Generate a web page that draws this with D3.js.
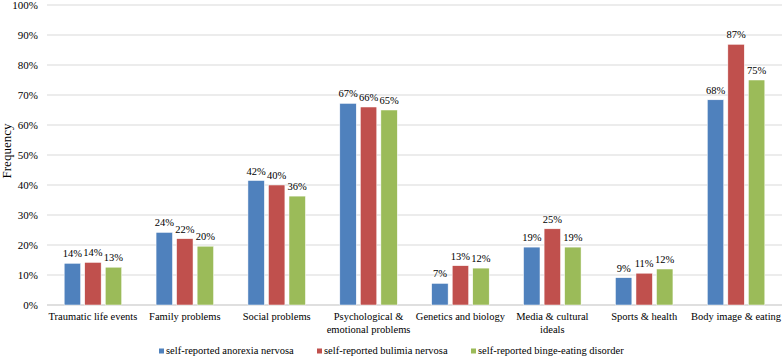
<!DOCTYPE html>
<html>
<head>
<meta charset="utf-8">
<script src="https://cdn.jsdelivr.net/npm/d3@7"></script>
<style>
  body { margin: 0; background: #fff; }
</style>
</head>
<body>
<svg id="chart" width="782" height="357"></svg>
<script>
const categories = [
    ["Traumatic life events"],
    ["Family problems"],
    ["Social problems"],
    ["Psychological &", "emotional problems"],
    ["Genetics and biology"],
    ["Media & cultural", "ideals"],
    ["Sports & health"],
    ["Body image & eating"]
];
const seriesNames = [
    "self-reported anorexia nervosa",
    "self-reported bulimia nervosa",
    "self-reported binge-eating disorder"
];
const anorexia = [13.9, 24.2, 41.5, 67.2, 7.2, 19.3, 9.1, 68.4];
const bulimia = [14.2, 22.1, 40.0, 66.0, 13.1, 25.4, 10.6, 86.9];
const bingeEating = [12.6, 19.6, 36.3, 65.0, 12.3, 19.3, 12.0, 75.0];
const anorexiaLabels = ["14%", "24%", "42%", "67%", "7%", "19%", "9%", "68%"];
const bulimiaLabels = ["14%", "22%", "40%", "66%", "13%", "25%", "11%", "87%"];
const bingeLabels = ["13%", "20%", "36%", "65%", "12%", "19%", "12%", "75%"];
const yTicks = [0, 10, 20, 30, 40, 50, 60, 70, 80, 90, 100];

const colors = ["#4f81bd", "#c0504d", "#9bbb59"];
const FONT = "Liberation Serif";
const FS = "10.5px";

const svg = d3.select("#chart");
const width = +svg.attr("width");
const height = +svg.attr("height");
const margin = { top: 5, right: 0, bottom: 52, left: 47 };

const catKeys = categories.map((c, i) => i);
const seriesData = [anorexia, bulimia, bingeEating];
const seriesLabels = [anorexiaLabels, bulimiaLabels, bingeLabels];

const x = d3.scaleBand()
    .domain(catKeys)
    .range([margin.left, width - margin.right]);

// width of one cluster of three bars
const groupW = 57.5;
const xs = d3.scaleBand()
    .domain([0, 1, 2])
    .range([0, groupW])
    .paddingInner(0.2);

const y = d3.scaleLinear()
    .domain([0, 100])
    .range([height - margin.bottom, margin.top]);

const barX = (i, s) => x(i) + (x.bandwidth() - groupW) / 2 + xs(s);

// gridlines
svg.append("g")
    .selectAll("line")
    .data(yTicks)
    .join("line")
    .attr("x1", margin.left)
    .attr("x2", width - margin.right)
    .attr("y1", d => y(d))
    .attr("y2", d => y(d))
    .attr("stroke", d => d === 0 ? "#bfbfbf" : "#d9d9d9")
    .attr("stroke-width", 1);

// y tick labels
svg.append("g")
    .selectAll("text")
    .data(yTicks)
    .join("text")
    .attr("x", margin.left - 9)
    .attr("y", d => y(d))
    .attr("dy", "0.35em")
    .attr("text-anchor", "end")
    .style("font-family", FONT)
    .style("font-size", "11px")
    .text(d => d + "%");

// y axis title
svg.append("text")
    .attr("transform", "rotate(-90)")
    .attr("x", -151)
    .attr("y", 11)
    .attr("text-anchor", "middle")
    .style("font-family", FONT)
    .style("font-size", "13px")
    .text("Frequency");

// bars + value labels
seriesData.forEach((vals, s) => {
    const g = svg.append("g");
    g.selectAll("rect")
        .data(vals)
        .join("rect")
        .attr("x", (d, i) => barX(i, s))
        .attr("y", d => y(d))
        .attr("width", xs.bandwidth())
        .attr("height", d => y(0) - y(d))
        .attr("fill", colors[s])
        .attr("stroke", "#fff")
        .attr("stroke-width", 0.5);

    g.selectAll("text")
        .data(vals)
        .join("text")
        .attr("x", (d, i) => barX(i, s) + xs.bandwidth() / 2)
        .attr("y", d => y(d) - 6)
        .attr("text-anchor", "middle")
        .style("font-family", FONT)
        .style("font-size", FS)
        .text((d, i) => seriesLabels[s][i]);
});

// category labels
const catG = svg.append("g");
categories.forEach((lines, i) => {
    const t = catG.append("text")
        .attr("x", x(i) + x.bandwidth() / 2)
        .attr("y", y(0) + 15)
        .attr("text-anchor", "middle")
        .style("font-family", FONT)
        .style("font-size", FS);
    lines.forEach((ln, j) => {
        t.append("tspan")
            .attr("x", x(i) + x.bandwidth() / 2)
            .attr("dy", j === 0 ? 0 : 13)
            .style("font-family", FONT)
            .text(ln);
    });
});

// legend
const legendX = [159, 317, 471];
const legend = svg.append("g");
seriesNames.forEach((name, s) => {
    legend.append("rect")
        .attr("x", legendX[s])
        .attr("y", 348.5)
        .attr("width", 5)
        .attr("height", 5)
        .attr("fill", colors[s]);
    legend.append("text")
        .attr("x", legendX[s] + 7)
        .attr("y", 354)
        .style("font-family", FONT)
        .style("font-size", FS)
        .text(name);
});
</script>
</body>
</html>
